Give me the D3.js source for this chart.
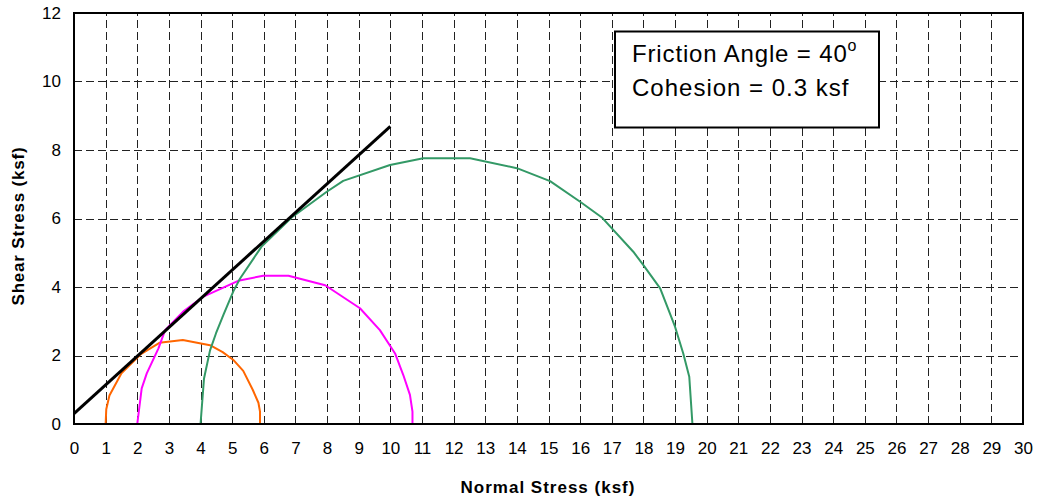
<!DOCTYPE html>
<html><head><meta charset="utf-8">
<script src="https://cdn.jsdelivr.net/npm/d3@7"></script>
<style>body{margin:0;background:#fff;} svg{display:block;font-family:Arial,"Liberation Sans",sans-serif;}</style>
</head><body><svg id="c" width="1039" height="502"></svg>
<script>
// ---- data ----
const xTickValues = [0,1,2,3,4,5,6,7,8,9,10,11,12,13,14,15,16,17,18,19,20,21,22,23,24,25,26,27,28,29,30];
const yTickValues = [0,2,4,6,8,10,12];

const orangeSigma = [1.0, 1.02, 1.12, 1.5, 2.1, 2.7, 3.44, 4.3, 4.7, 5.05, 5.35, 5.65, 5.83, 5.88, 5.88];
const orangeTau   = [0, 0.43, 0.83, 1.48, 2.03, 2.37, 2.45, 2.3, 2.1, 1.86, 1.55, 1.0, 0.62, 0.36, 0];

const magentaSigma = [2.0, 2.14, 2.3, 2.67, 2.88, 3.45, 4.09, 5.19, 5.98, 6.78, 7.94, 9.04, 9.67, 10.15, 10.41, 10.62, 10.7, 10.7];
const magentaTau   = [0, 1.04, 1.48, 2.21, 2.74, 3.28, 3.72, 4.18, 4.33, 4.33, 4.05, 3.38, 2.74, 2.06, 1.43, 0.85, 0.36, 0];

const greenSigma = [4.0, 4.11, 4.3, 4.49, 4.72, 5.04, 5.25, 5.93, 6.88, 7.99, 8.51, 9.99, 11.04, 12.52, 14.0, 15.05, 16.0, 16.7, 17.68, 18.0, 18.53, 19.0, 19.26, 19.45, 19.55];
const greenTau   = [0, 1.33, 2.15, 2.65, 3.18, 3.88, 4.25, 5.18, 6.03, 6.78, 7.1, 7.56, 7.76, 7.76, 7.47, 7.09, 6.49, 6.02, 5.03, 4.64, 3.96, 2.84, 2.06, 1.38, 0];

const envelopeSigma = [0, 10];
const envelopeTau   = [0.3, 8.69];

const legendLines = ["Friction Angle = 40", "Cohesion = 0.3 ksf"];
const xTitle = "Normal Stress (ksf)";
const yTitle = "Shear Stress (ksf)";

// ---- chart ----
const svg = d3.select("#c");
const L = 74, R = 1023, T = 13, B = 424;
const x = d3.scaleLinear().domain([0,30]).range([L,R]);
const y = d3.scaleLinear().domain([0,12]).range([B,T]);

svg.append("rect").attr("width",1039).attr("height",502).attr("fill","#fff");

// grid
const grid = svg.append("g").attr("stroke","#222").attr("stroke-width",1).attr("stroke-dasharray","8,4");
grid.selectAll("line.v").data(xTickValues.filter(v=>v>0 && v<30)).join("line")
  .attr("x1",d=>Math.round(x(d))+0.5).attr("x2",d=>Math.round(x(d))+0.5)
  .attr("y1",B).attr("y2",T);
grid.selectAll("line.h").data(yTickValues.filter(v=>v>0 && v<12)).join("line")
  .attr("y1",d=>Math.round(y(d))+0.5).attr("y2",d=>Math.round(y(d))+0.5)
  .attr("x1",L).attr("x2",R);

// series
const line = d3.line().x(d=>x(d[0])).y(d=>y(d[1]));
function series(s,t,color,w){
  svg.append("path").datum(s.map((v,i)=>[v,t[i]]))
    .attr("d",line).attr("fill","none").attr("stroke",color).attr("stroke-width",w)
    .attr("stroke-linejoin","round");
}
series(orangeSigma, orangeTau, "#FF6600", 2);
series(magentaSigma, magentaTau, "#FF00FF", 2);
series(greenSigma, greenTau, "#339966", 2);
series(envelopeSigma, envelopeTau, "#000", 3);

// frame
svg.append("rect").attr("x",L).attr("y",T).attr("width",R-L).attr("height",B-T)
  .attr("fill","none").attr("stroke","#000").attr("stroke-width",2);

// axes
const xAxis = svg.append("g").attr("transform",`translate(0,${B})`)
  .call(d3.axisBottom(x).tickValues(xTickValues).tickSize(0).tickPadding(18).tickFormat(d3.format("d")));
xAxis.select(".domain").remove();
xAxis.selectAll("text").attr("font-size",17).attr("font-family","Arial, 'Liberation Sans', sans-serif").attr("fill","#000");

const yAxis = svg.append("g").attr("transform",`translate(${L},0)`)
  .call(d3.axisLeft(y).tickValues(yTickValues).tickSize(0).tickPadding(13).tickFormat(d3.format("d")));
yAxis.select(".domain").remove();
yAxis.selectAll("text").attr("font-size",17).attr("font-family","Arial, 'Liberation Sans', sans-serif").attr("fill","#000");

// titles
svg.append("text").attr("x",548).attr("y",493).attr("text-anchor","middle")
  .attr("font-size",17).attr("font-weight","bold").attr("letter-spacing",1.0).text(xTitle);
svg.append("text").attr("transform","translate(24,226) rotate(-90)").attr("text-anchor","middle")
  .attr("font-size",17).attr("font-weight","bold").attr("letter-spacing",0.8).text(yTitle);

// legend box
svg.append("rect").attr("x",615).attr("y",31.5).attr("width",264).attr("height",96)
  .attr("fill","#fff").attr("stroke","#000").attr("stroke-width",2);
const t1 = svg.append("text").attr("x",632).attr("y",62).attr("font-size",24).attr("letter-spacing",0.85);
t1.append("tspan").text(legendLines[0]);
t1.append("tspan").attr("dy",-11).attr("font-size",16).attr("letter-spacing",0).text("o");
svg.append("text").attr("x",632).attr("y",96).attr("font-size",24).attr("letter-spacing",1.0).text(legendLines[1]);
</script></body></html>
